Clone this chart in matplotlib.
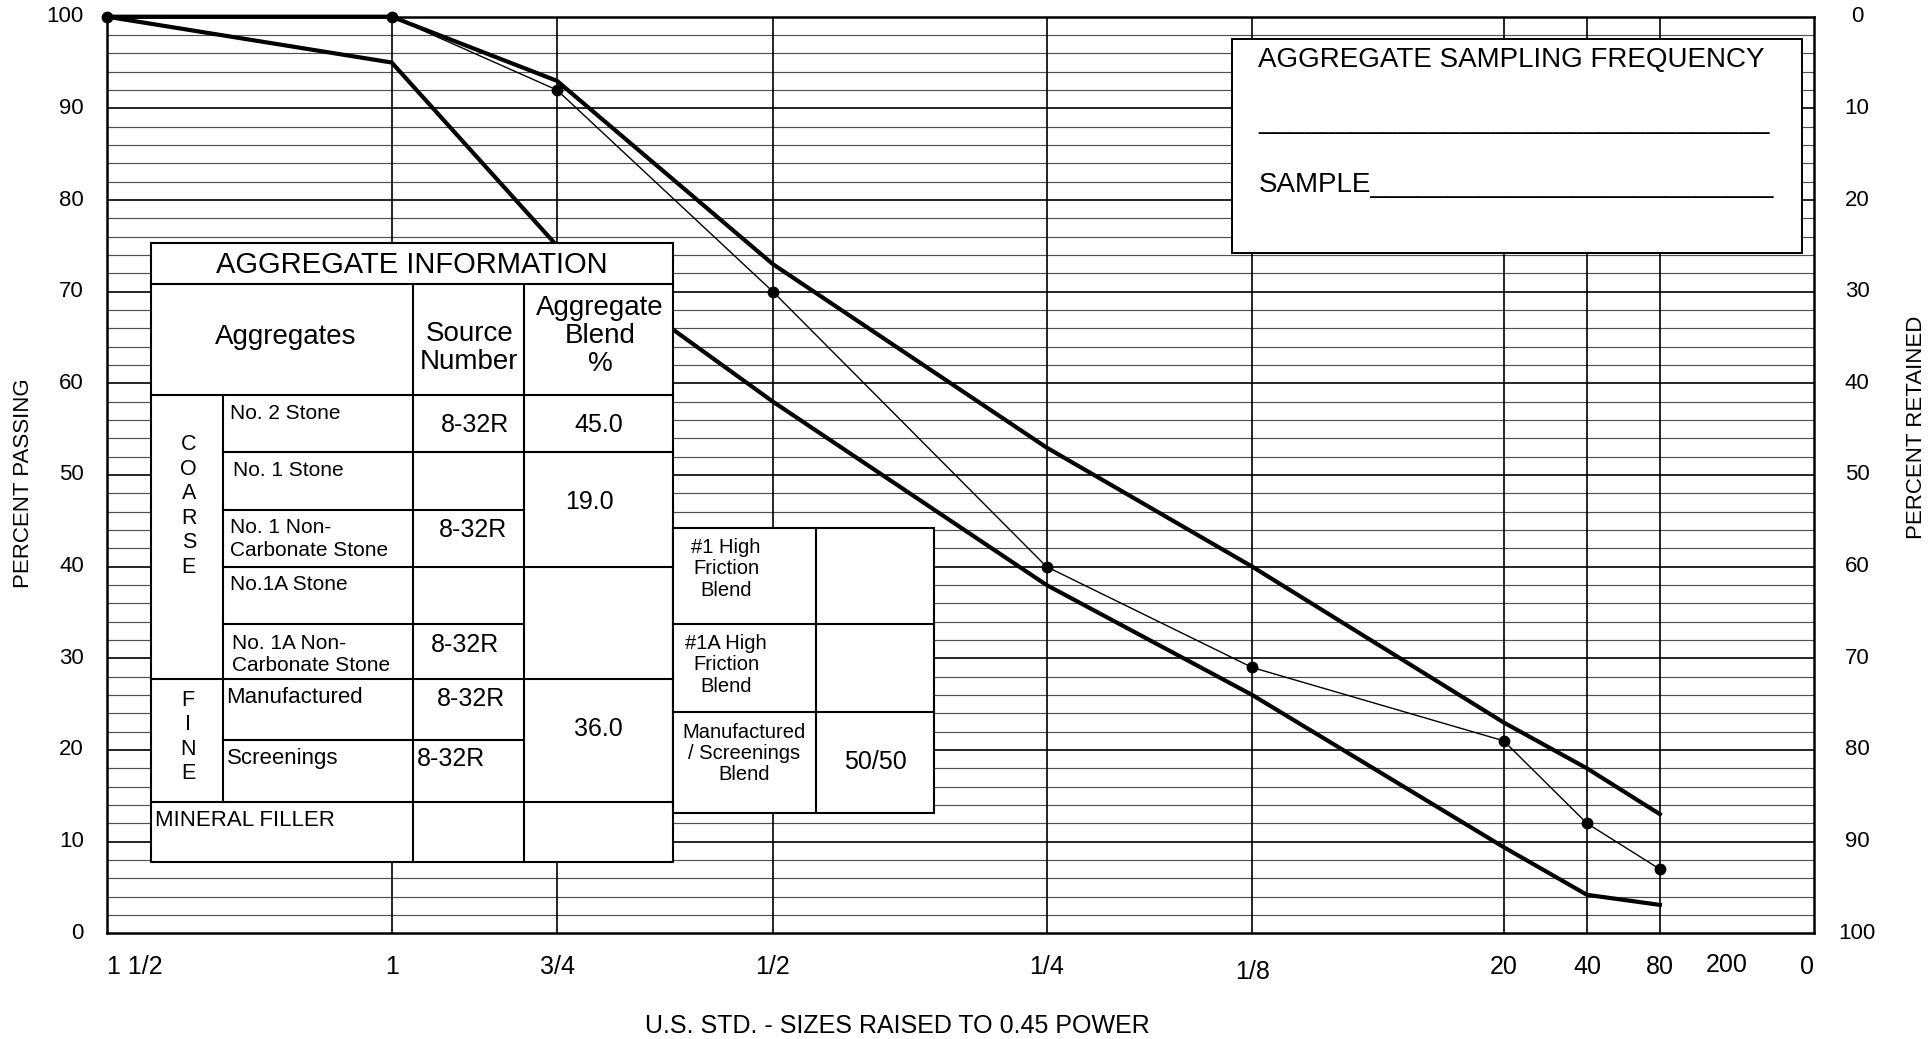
import matplotlib
matplotlib.use('Agg')
import matplotlib.pyplot as plt
import matplotlib.transforms as mtransforms
from matplotlib.patches import Rectangle

plt.rcParams['font.family'] = ['Liberation Sans', 'DejaVu Sans']

# Sieve sizes (mm) and their labels on the x axis
sieve_mm = [37.5, 25.0, 19.0, 12.5, 6.35, 3.175, 0.85, 0.425, 0.18, 0.075, 0.0]
sieve_labels = ['1 1/2', '1', '3/4', '1/2', '1/4', '1/8', '20', '40', '80', '200', '0']

# Gradation curves, percent passing
curve_mm = [37.5, 25.0, 19.0, 12.5, 6.35, 3.175, 0.85, 0.425, 0.18]
upper_limit = [100, 100, 93, 73, 53, 40, 23, 18, 13]
lower_limit = [100, 95, 75, 58, 38, 26, 9.4, 4.2, 3.1]
blend_passing = [100, 100, 92, 70, 40, 29, 21, 12, 7]

# Aggregate information table contents
agg_names = ['No. 2 Stone', 'No. 1 Stone', 'No. 1 Non-\nCarbonate Stone', 'No.1A Stone',
             'No. 1A Non-\nCarbonate Stone', 'Manufactured', 'Screenings']
agg_sources = ['8-32R', '', '8-32R', '', '8-32R', '8-32R', '8-32R']
blend_pct = ['45.0', '19.0', '', '36.0']
friction_names = ['#1 High\nFriction\nBlend', '#1A High\nFriction\nBlend', 'Manufactured\n/ Screenings\nBlend']
friction_vals = ['', '', '50/50']

W, H = 1930, 1039
fig = plt.figure(figsize=(W / 100, H / 100), dpi=100)
ax_l, ax_r, ax_t, ax_b = 107, 1814.3, 16.7, 933.3
ax = fig.add_axes([ax_l / W, 1 - ax_b / H, (ax_r - ax_l) / W, (ax_b - ax_t) / H])

# pixel coords, origin top-left
px = mtransforms.Affine2D().scale(1 / W, -1 / H).translate(0, 1) + fig.transFigure


def pw(d):
    return d ** 0.45


ax.set_xlim(pw(37.5), 0)
ax.set_ylim(0, 100)
ax.set_xticks([])
ax.set_yticks([])
for s in ax.spines.values():
    s.set_linewidth(1.8)

# grid
for v in range(2, 100, 2):
    if v % 10 == 0:
        ax.axhline(v, color='black', lw=1.2, zorder=1)
    else:
        ax.axhline(v, color='#505050', lw=0.85, zorder=1)
for d in sieve_mm[1:9]:
    ax.axvline(pw(d), color='black', lw=1.2, zorder=1)

# curves
xs = [pw(d) for d in curve_mm]
ax.plot(xs, upper_limit, color='black', lw=3.0, zorder=3, clip_on=False)
ax.plot(xs, lower_limit, color='black', lw=3.0, zorder=3, clip_on=False)
ax.plot(xs, blend_passing, color='black', lw=1.0, marker='o', ms=7.5, zorder=4, clip_on=False)

# axis labels
ytr = mtransforms.blended_transform_factory(px, ax.transData)
xtr = mtransforms.blended_transform_factory(ax.transData, px)
for v in range(0, 101, 10):
    ax.text(84, v, str(v), transform=ytr, ha='right', va='center', fontsize=16, clip_on=False)
    ax.text(1857, v, str(100 - v), transform=ytr, ha='center', va='center', fontsize=16, clip_on=False)

x_off = {'1 1/2': (0, 0), '1/8': (0, 5), '200': (17, -2)}
for d, lab in zip(sieve_mm, sieve_labels):
    dx, dy = x_off.get(lab, (0, 0))
    ha = 'left' if lab == '1 1/2' else ('right' if d == 0 else 'center')
    t = ax.text(pw(d), 967 + dy, lab, transform=xtr, ha=ha, va='center', fontsize=18, clip_on=False)
    if dx:
        t.set_transform(xtr + mtransforms.Affine2D().translate(dx, 0))

fig.text(897 / W, 1 - 1026 / H, 'U.S. STD. - SIZES RAISED TO 0.45 POWER', ha='center', va='center', fontsize=18)
fig.text(24 / W, 1 - 483 / H, 'PERCENT PASSING', rotation=90, ha='center', va='center', fontsize=16)
fig.text(1916 / W, 1 - 427 / H, 'PERCENT RETAINED', rotation=90, ha='center', va='center', fontsize=16)


def box(x0, y0, x1, y1, lw=1.5):
    ax.add_patch(Rectangle((x0, y0), x1 - x0, y1 - y0, transform=px, facecolor='white',
                           edgecolor='black', lw=lw, zorder=10, clip_on=False))


def hl(y, x0, x1):
    ax.plot([x0, x1], [y, y], transform=px, color='black', lw=1.5, zorder=11, clip_on=False)


def vl(x, y0, y1):
    ax.plot([x, x], [y0, y1], transform=px, color='black', lw=1.5, zorder=11, clip_on=False)


def txt(x, y, s, size, ha='center', ls=1.2):
    ax.text(x, y, s, transform=px, ha=ha, va='center', fontsize=size, linespacing=ls,
            zorder=12, clip_on=False)


# Aggregate information table
cx = [150.9, 222.5, 412.7, 524.4, 672.9]
ry = [242.7, 284.3, 395, 452.3, 510, 566.7, 624.3, 679.3, 740, 802.3, 861.7]
box(cx[0], ry[0], cx[4], ry[10])
hl(ry[1], cx[0], cx[4])
vl(cx[2], ry[1], ry[10])
vl(cx[3], ry[1], ry[10])
hl(ry[2], cx[0], cx[4])
vl(cx[1], ry[2], ry[9])
for i, full in zip(range(3, 10), [True, False, True, False, 'all', False, 'all']):
    if full == 'all':
        hl(ry[i], cx[0], cx[4])
    elif full:
        hl(ry[i], cx[1], cx[4])
    else:
        hl(ry[i], cx[1], cx[3])

txt(411.9, 265, 'AGGREGATE INFORMATION', 21)
txt(286, 337, 'Aggregates', 20)
txt(469.3, 348, 'Source\nNumber', 20, ls=1.08)
txt(600.2, 336, 'Aggregate\nBlend\n%', 20, ls=1.1)

name_pos = [(230.5, 413.3), (233, 470), (230.5, 539), (230.5, 584.3), (232.5, 654.5), (226.5, 697.7), (226.5, 758.3)]
name_size = [15, 15, 15, 15, 15, 16, 16]
src_pos = [(475, 425, 'center'), (473, 470, 'center'), (473, 530, 'center'), (470, 590, 'center'),
           (465.5, 645, 'center'), (471.2, 699.3, 'center'), (416.5, 759, 'left')]
for name, src, (nx, ny), ns, (sx, sy, sha) in zip(agg_names, agg_sources, name_pos, name_size, src_pos):
    txt(nx, ny, name, ns, ha='left', ls=1.23)
    if src:
        txt(sx, sy, src, 18, ha=sha)
for val, (bx, by) in zip(blend_pct, [(598.3, 425), (589.9, 502), (598, 620), (598.3, 729.3)]):
    if val:
        txt(bx, by, val, 18)
txt(155, 820.7, 'MINERAL FILLER', 16, ha='left')
txt(188.8, 506, 'C\nO\nA\nR\nS\nE', 15.5, ls=1.22)
txt(188, 737, 'F\nI\nN\nE', 15.5, ls=1.22)

# Friction blend table
fx = [672.9, 816, 934.3]
fy = [528.3, 624, 712.3, 813.3]
box(fx[0], fy[0], fx[2], fy[3])
vl(fx[1], fy[0], fy[3])
hl(fy[1], fx[0], fx[2])
hl(fy[2], fx[0], fx[2])
for name, val, (nx, ny), vy in zip(friction_names, friction_vals,
                                   [(726, 569), (726, 665), (744.3, 753.3)], [576, 668, 762]):
    txt(nx, ny, name, 14.5, ls=1.14)
    if val:
        txt(875, vy, val, 18)

# Sampling frequency box
box(1231.7, 39.3, 1802, 253.3, lw=1.4)
txt(1258.5, 59.5, 'AGGREGATE SAMPLING FREQUENCY', 20, ha='left')
ax.text(1258, 128, '_' * 33, transform=px, ha='left', va='baseline', fontsize=20, zorder=12, clip_on=False)
ax.text(1259, 192.5, 'SAMPLE' + '_' * 26, transform=px, ha='left', va='baseline', fontsize=20,
        zorder=12, clip_on=False)

fig.savefig('out.png', dpi=100)
